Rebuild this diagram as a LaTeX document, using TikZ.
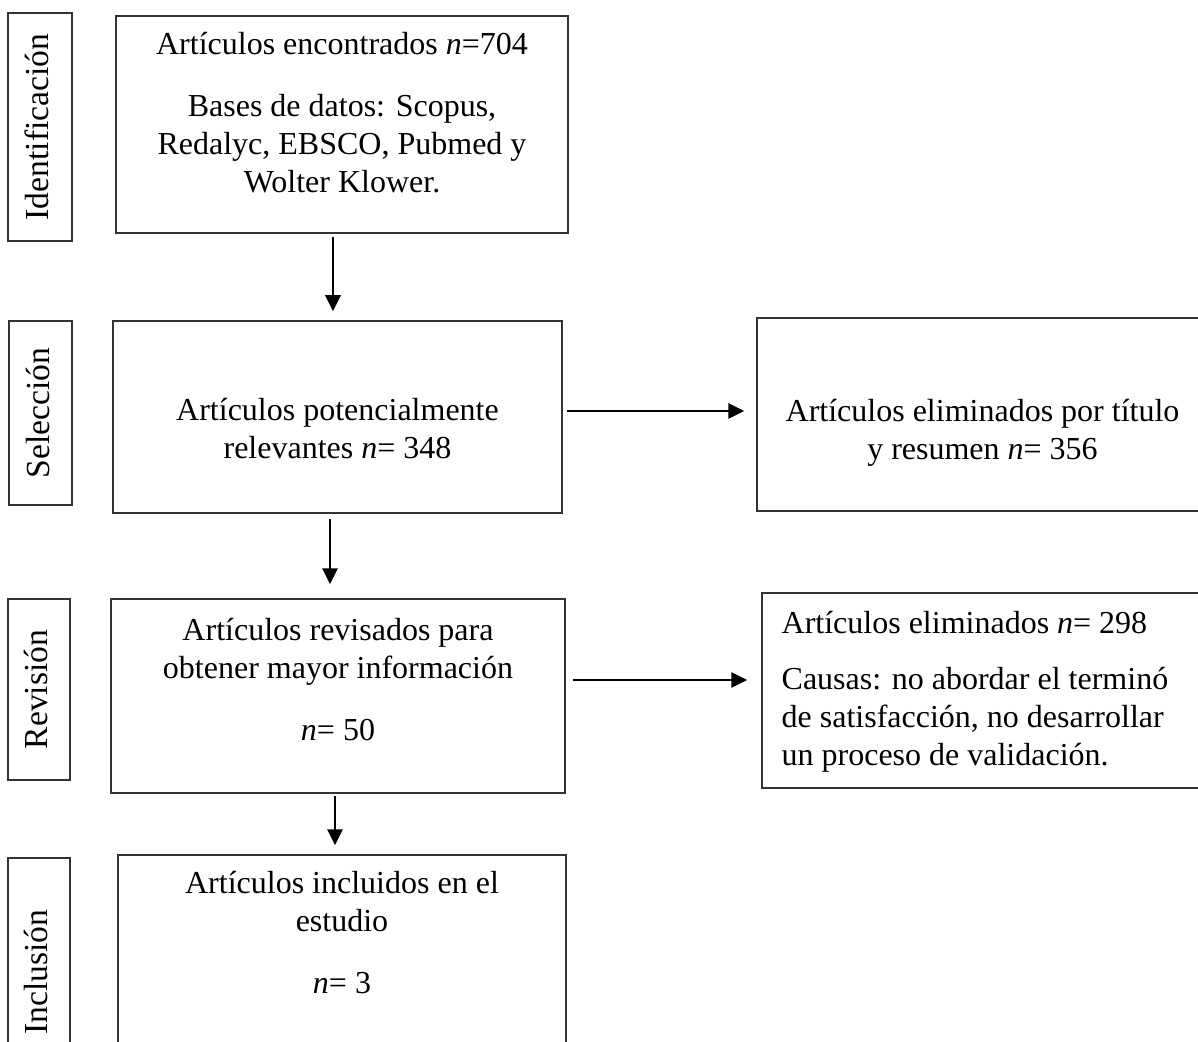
\documentclass[tikz,border=0pt]{standalone}
\usepackage{fontspec}
\setmainfont{Liberation Serif}
\usetikzlibrary{arrows.meta, positioning}

\begin{document}
\begin{tikzpicture}[x=0.5pt, y=-0.5pt,
  box/.style={draw=black!80, line width=0.75pt, inner sep=0pt},
  txt/.style={align=center, inner sep=0pt, font=\fontsize{16}{19}\selectfont},
  phase/.style={box, font=\fontsize{16.8}{20}\selectfont},
  arr/.style={-{Triangle[length=8pt,width=7.5pt]}, line width=1.35pt}]
\useasboundingbox (0,0) rectangle (1198,1042);
\clip (0,0) rectangle (1198,1042);

% etapas (columna izquierda)
\node[phase, minimum width=32pt, minimum height=114pt] (ident) at (40,127) {\hspace*{-3pt}\rotatebox{90}{Identificación}};
\node[phase, minimum width=31.5pt, minimum height=92pt] (sel) at (40.5,413) {\hspace*{-3pt}\rotatebox{90}{Selección}};
\node[phase, minimum width=31pt, minimum height=90.5pt] (rev) at (39,689.5) {\hspace*{-3pt}\rotatebox{90}{Revisión}};
\node[phase, minimum width=31pt, minimum height=114pt] (inc) at (39,972) {\hspace*{-3pt}\rotatebox{90}{Inclusión}};

% cajas principales
\node[box, minimum width=226pt, minimum height=108.5pt] (encontrados) at (342,124.5) {};
\node[box, minimum width=224.5pt, minimum height=96pt] (potenciales) at (337.5,417) {};
\node[box, minimum width=227pt, minimum height=97pt] (revisados) at (338,696) {};
\node[box, minimum width=224pt, minimum height=112.5pt] (incluidos) at (342,967.5) {};

% cajas de eliminados
\node[box, minimum width=231.5pt, minimum height=96.5pt] (elim1) at (988.5,414.5) {};
\node[box, minimum width=229pt, minimum height=97.5pt] (elim2) at (991,690.5) {};

% textos
\node[txt] (encontrados-t) at ([yshift=5.75pt]encontrados.center)
  {Artículos encontrados \textit{n}=704\\[12pt]
   Bases de datos: Scopus,\\ Redalyc, EBSCO, Pubmed y\\ Wolter Klower.};
\node[txt] (potenciales-t) at ([yshift=-6pt]potenciales.center)
  {Artículos potencialmente\\ relevantes \textit{n}= 348};
\node[txt] (revisados-t) at ([yshift=8pt]revisados.center)
  {Artículos revisados para\\ obtener mayor información\\[12pt] \textit{n}= 50};
\node[txt] (incluidos-t) at ([yshift=17.25pt]incluidos.center)
  {Artículos incluidos en el\\ estudio\\[12pt] \textit{n}= 3};
\node[txt] (elim1-t) at ([xshift=-3pt,yshift=-9pt]elim1.center)
  {Artículos eliminados por título\\ y resumen \textit{n}= 356};
\node[txt, align=left, anchor=west] (elim2-t) at ([xshift=10pt,yshift=-0.5pt]elim2.west)
  {Artículos eliminados \textit{n}= 298\\[9pt]
   Causas: no abordar el terminó\\ de satisfacción, no desarrollar\\ un proceso de validación.};

% flechas
\draw[arr, shorten <=1.5pt, shorten >=4.5pt] ([xshift=-4.5pt]encontrados.south) -- ([xshift=-4.5pt]encontrados.south |- potenciales.north);
\draw[arr, shorten <=2.5pt, shorten >=7pt] ([xshift=-3.75pt]potenciales.south) -- ([xshift=-3.75pt]potenciales.south |- revisados.north);
\draw[arr, shorten <=1pt, shorten >=4.5pt] ([xshift=-1.5pt]revisados.south) -- ([xshift=-1.5pt]revisados.south |- incluidos.north);
\draw[arr, shorten <=2pt, shorten >=6pt] ([yshift=3pt]potenciales.east) -- ([yshift=3pt]potenciales.east -| elim1.west);
\draw[arr, shorten <=3.5pt, shorten >=7pt] ([yshift=8pt]revisados.east) -- ([yshift=8pt]revisados.east -| elim2.west);
\end{tikzpicture}
\end{document}
